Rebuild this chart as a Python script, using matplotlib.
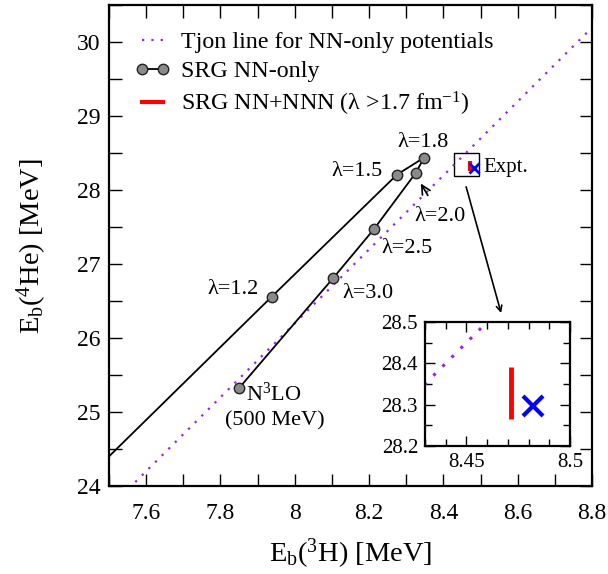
import matplotlib
matplotlib.use("Agg")
import matplotlib.pyplot as plt
from matplotlib.ticker import MultipleLocator
from matplotlib.lines import Line2D

plt.rcParams['font.family'] = ['Liberation Serif', 'DejaVu Serif']
plt.rcParams['mathtext.fontset'] = 'custom'
plt.rcParams['mathtext.rm'] = 'Liberation Serif'
plt.rcParams['mathtext.it'] = 'Liberation Serif:italic'

# SRG NN-only trajectory (first point is the extension to the frame edge)
srg_x = [7.50, 7.938, 8.275, 8.348, 8.325, 8.2125, 8.103, 7.851]
srg_y = [24.40, 26.56, 28.21, 28.44, 28.23, 27.47, 26.81, 25.33]
srg_labels = ["", "λ=1.2", "λ=1.5", "λ=1.8", "λ=2.0", "λ=2.5", "λ=3.0", "N$^3$LO"]

# Tjon line endpoints
tjon_x = [7.50, 8.80]
tjon_y = [23.70, 30.20]

# SRG NN+NNN band (lambda > 1.7)
nnn_x = [8.4715, 8.4715]
nnn_y = [28.265, 28.39]

# Experiment
expt_x = [8.482]
expt_y = [28.296]

purple = '#9B1FE8'

fig = plt.figure(figsize=(6.08, 5.74), dpi=100)
ax = fig.add_axes([0.179, 0.153, 0.795, 0.838])
ax.set_xlim(7.5, 8.8)
ax.set_ylim(24, 30.5)

ax.plot(tjon_x, tjon_y, linestyle=(0, (1, 3.2)), color=purple, lw=1.6)
ax.plot(srg_x, srg_y, color='black', lw=1.3, zorder=3)
ax.plot(srg_x[1:], srg_y[1:], linestyle='none', marker='o', ms=7.5,
        mfc='#8a8a8a', mec='#222222', mew=1.0, zorder=4)
ax.plot(nnn_x, nnn_y, color='red', lw=3, solid_capstyle='butt', zorder=4)
ax.plot(expt_x, expt_y, linestyle='none', marker='x', ms=7, mew=2, color='blue', zorder=5)

fs = 16
ax.text(8.346, 28.64, srg_labels[3], ha='center', va='center', fontsize=fs)
ax.text(8.167, 28.25, srg_labels[2], ha='center', va='center', fontsize=fs)
ax.text(8.301, 27.21, srg_labels[5], ha='center', va='center', fontsize=fs)
ax.text(8.198, 26.60, srg_labels[6], ha='center', va='center', fontsize=fs)
ax.text(7.835, 26.66, srg_labels[1], ha='center', va='center', fontsize=fs)
ax.annotate(srg_labels[4], xy=(8.339, 28.09), xytext=(8.391, 27.65),
            ha='center', va='center', fontsize=fs,
            arrowprops=dict(arrowstyle='->', color='black', lw=1.2,
                            shrinkA=7, shrinkB=0))
ax.text(7.942, 25.24, srg_labels[7], ha='center', va='center', fontsize=fs)
ax.text(7.947, 24.88, "(500 MeV)", ha='center', va='center', fontsize=fs)

# Expt box
rect = plt.Rectangle((8.428, 28.19), 0.068, 0.31, fill=False, ec='black', lw=1.0)
ax.add_patch(rect)
ax.text(8.507, 28.31, "Expt.", ha='left', va='center', fontsize=15)
ax.annotate("", xy=(8.555, 26.34), xytext=(8.461, 28.045),
            arrowprops=dict(arrowstyle='->', color='black', lw=1.2,
                            shrinkA=0, shrinkB=0))

ax.set_xlabel("E$_\\mathrm{b}$($^3$H) [MeV]", fontsize=20.5, labelpad=9)
ax.set_ylabel("E$_\\mathrm{b}$($^4$He) [MeV]", fontsize=20.5, labelpad=20)

ax.xaxis.set_major_locator(MultipleLocator(0.2))
ax.xaxis.set_minor_locator(MultipleLocator(0.1))
ax.yaxis.set_major_locator(MultipleLocator(1))
ax.yaxis.set_minor_locator(MultipleLocator(0.5))
ax.set_xticks([7.6, 7.8, 8.0, 8.2, 8.4, 8.6, 8.8])
ax.set_xticklabels(["7.6", "7.8", "8", "8.2", "8.4", "8.6", "8.8"])
ax.tick_params(which='both', direction='in', top=True, right=True, length=9, width=1.0,
               labelsize=17)
ax.tick_params(axis='x', pad=12)
ax.tick_params(axis='y', pad=6)
for s in ax.spines.values():
    s.set_linewidth(1.6)

handles = [
    Line2D([0], [0], linestyle=(0, (1, 3.2)), color=purple, lw=1.6),
    Line2D([0, 1], [0, 0], color='black', lw=1.3, marker='o', ms=7.5,
           mfc='#8a8a8a', mec='#222222', markevery=[0, 1]),
    Line2D([0], [0], color='red', lw=3),
]
leg = ax.legend(handles, ["Tjon line for NN-only potentials", "SRG NN-only",
                          "SRG NN+NNN (λ >1.7 fm$^{-1}$)"],
                loc='upper left', bbox_to_anchor=(0.01, 0.99), frameon=False,
                fontsize=17.3, handlelength=1.45, handletextpad=0.45,
                labelspacing=0.3, numpoints=2, borderaxespad=0.5)

# Inset
ins = fig.add_axes([0.699, 0.223, 0.2385, 0.216])
ins.set_xlim(8.43, 8.50)
ins.set_ylim(28.2, 28.5)
ins.plot(tjon_x, tjon_y, linestyle=(0, (1, 3.2)), color=purple, lw=2.2)
ins.plot(nnn_x, nnn_y, color='red', lw=3.5, solid_capstyle='butt')
ins.plot(expt_x, expt_y, linestyle='none', marker='x', ms=14, mew=3, color='blue')
ins.set_xticks([8.45, 8.5])
ins.set_xticklabels(["8.45", "8.5"])
ins.xaxis.set_minor_locator(MultipleLocator(0.01))
ins.yaxis.set_major_locator(MultipleLocator(0.1))
ins.yaxis.set_minor_locator(MultipleLocator(0.05))
ins.tick_params(which='both', direction='in', top=True, right=True, labelsize=15, pad=5)
ins.tick_params(which='major', length=7, width=1.0)
ins.tick_params(which='minor', length=5, width=1.0)
for s in ins.spines.values():
    s.set_linewidth(1.6)

fig.savefig("out.png", dpi=100)
